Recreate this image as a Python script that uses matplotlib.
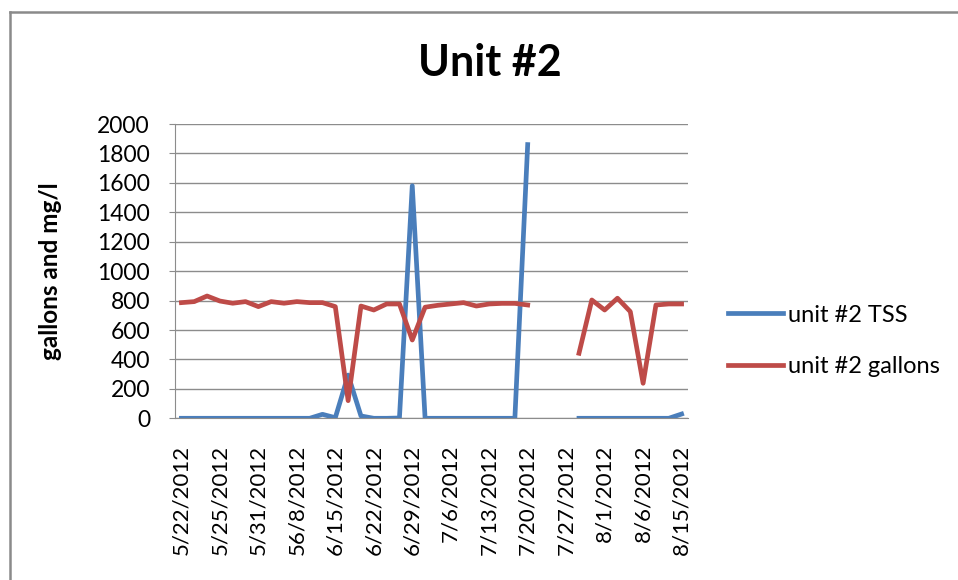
import numpy as np
import matplotlib
matplotlib.use("Agg")
from matplotlib import pyplot as plt
from matplotlib.lines import Line2D

plt.rcParams['font.family'] = ['Lato', 'DejaVu Sans']

# one value per sample; nan where nothing was recorded
tss = [0, 0, 0, 0, 0, 0, 0, 0, 0, 0,
       0, 27, 4, 294, 16, 0, 0, 2, 1580, 0,
       0, 0, 0, 0, 0, 0, 0, 1860, np.nan, np.nan,
       np.nan, 0, 0, 0, 0, 0, 0, 0, 0, 29]
gallons = [786, 793, 831, 797, 782, 793, 759, 793, 782, 793,
           786, 786, 759, 120, 763, 736, 777, 777, 532, 755,
           768, 777, 786, 763, 777, 781, 781, 770, np.nan, np.nan,
           np.nan, 442, 804, 736, 816, 725, 238, 770, 777, 777]
# only every third category is labelled on the axis
tick_labels = ["5/22/2012", "5/25/2012", "5/31/2012", "56/8/2012", "6/15/2012",
               "6/22/2012", "6/29/2012", "7/6/2012", "7/13/2012", "7/20/2012",
               "7/27/2012", "8/1/2012", "8/6/2012", "8/15/2012"]

BLUE = "#4a7ebb"
RED = "#be4b48"
GRID = "#8c8c8c"

fig = plt.figure(figsize=(9.58, 5.8), dpi=100)
ax = fig.add_axes([175 / 958, 1 - 418.3 / 580, 513 / 958, 294.3 / 580])

x = np.arange(len(tss))
ax.plot(x, tss, color=BLUE, lw=3.4, label="unit #2 TSS", solid_joinstyle="round")
ax.plot(x, gallons, color=RED, lw=3.4, label="unit #2 gallons", solid_joinstyle="round")

ax.set_xlim(-0.5, len(tss) - 0.5)
ax.set_ylim(0, 2000)
ax.set_yticks(range(0, 2001, 200))
ax.yaxis.grid(True, color=GRID, lw=1)
ax.set_axisbelow(True)
ax.set_xticks(range(0, len(tss), 3))
ax.set_xticklabels(tick_labels, rotation=90, fontsize=16)
ax.tick_params(axis="y", labelsize=16.5, length=4, color=GRID, pad=14)
ax.tick_params(axis="x", length=0, pad=19)
for s in ("top", "right"):
    ax.spines[s].set_visible(False)
for s in ("left", "bottom"):
    ax.spines[s].set_color(GRID)

ax.set_ylabel("gallons and mg/l", fontsize=17.5, fontweight="bold")
ax.yaxis.set_label_coords((62 - 175) / 513, 0.5)
fig.text(490 / 958, 1 - 63 / 580, "Unit #2", fontsize=31, fontweight="bold",
         ha="center", va="center")

fig.legend(loc="center left", bbox_to_anchor=(719 / 958, 1 - 341 / 580),
           frameon=False, fontsize=17, handlelength=2.3, handletextpad=0.22,
           labelspacing=1.3, borderaxespad=0)

# outer chart border (only top and left edges are inside the crop)
fig.add_artist(Line2D([10 / 958, 10 / 958], [0, 1 - 12 / 580], color="#8a8a8a", lw=1.8))
fig.add_artist(Line2D([10 / 958, 1], [1 - 12 / 580, 1 - 12 / 580], color="#8a8a8a", lw=1.8))

fig.savefig("out.png", dpi=100)
plt.close()
